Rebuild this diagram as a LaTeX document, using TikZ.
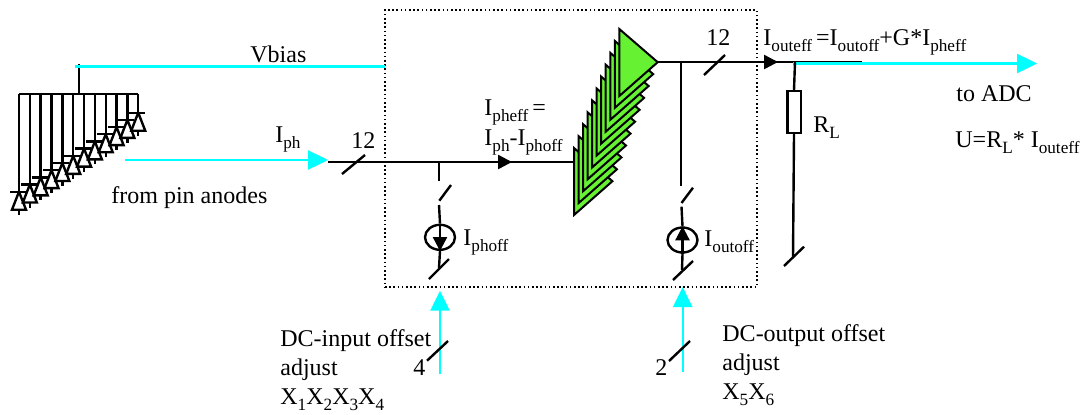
\documentclass[tikz,border=0pt]{standalone}
\usepackage{fontspec}
\setmainfont{Liberation Serif}
\usetikzlibrary{positioning,arrows.meta,shapes.geometric}
\definecolor{wirecyan}{RGB}{0,255,255}
\definecolor{ampgreen}{RGB}{102,242,51}
\newcommand{\lowtxt}[1]{\raisebox{-3pt}{\fontsize{8.6}{10}\selectfont #1}}

\begin{document}
\begin{tikzpicture}[
  x=0.5pt, y=-0.5pt,
  wire/.style={line width=1.2pt},
  bus/.style={line width=1.2pt, draw=wirecyan},
  busarrow/.style={bus, -{Triangle[length=10pt,width=9.5pt]}},
  midarrow/.style={wire, -{Triangle[length=7pt,width=7pt]}},
  lbl/.style={anchor=base west, inner sep=0pt, font=\fontsize{12}{14.5}\selectfont},
  para/.style={anchor=north west, inner sep=0pt, align=left, font=\fontsize{12}{14.5}\selectfont},
  isrc/.style={draw, ellipse, line width=1.2pt, minimum width=15pt, minimum height=12.5pt, inner sep=0pt},
  load/.style={draw, line width=1.2pt, minimum width=6.7pt, minimum height=20.8pt, inner sep=0pt},
  ampstage/.style={draw, line width=1pt, fill=ampgreen, line join=miter},
  ]
  \useasboundingbox (0,0) rectangle (1090,414);

  % offset box
  \node[draw, line width=0.9pt, dash pattern=on 0.8pt off 1.3pt, minimum width=186pt, minimum height=138.5pt, inner sep=0pt] (box) at (571,148.5) {};

  % pin diodes
  \coordinate (vbias) at (79,64);
  \coordinate (rail) at (79,94);
  \draw[wire] (vbias) -- (rail);
  \draw[wire] (19,94) -- (138,94);
  \foreach \i in {0,...,11} {
    \pgfmathsetmacro{\dx}{19+10.84*\i}
    \pgfmathsetmacro{\dy}{191.7-7.18*\i}
    \draw[wire] (\dx,94) -- (\dx,\dy);
    \draw[wire] (\dx-9,\dy) -- (\dx+7,\dy);
    \draw[wire] (\dx,\dy) -- (\dx+7,\dy+18) -- (\dx-7,\dy+18) -- cycle;
    \draw[wire] (\dx,\dy+18) -- (\dx,\dy+23);
  }
  \coordinate (vbiasin) at (75,66.5);
  \coordinate (vbiasout) at (385,66.5);
  \draw[bus] (vbiasin) -- (vbiasout);
  \node[lbl] (vbiastxt) at (250,62) {Vbias};

  % input side
  \coordinate (iphin) at (125,160);
  \coordinate (iphend) at (328,160);
  \coordinate (inst) at (328,162);
  \coordinate (injoin) at (439,162);
  \coordinate (inmid) at (512,162);
  \coordinate (ampin) at (575,162);
  \draw[busarrow] (iphin) -- (iphend);
  \draw[wire] (inst) -- (injoin) -- (ampin);
  \draw[midarrow] (injoin) -- (inmid);
  \draw[wire] (342,174) -- (365,155);
  \node[lbl] (iphtxt) at (275,142) {I\lowtxt{ph}};
  \node[lbl] (n12a) at (351,148) {12};
  \node[lbl] (frompin) at (111,203) {from pin anodes};
  \node[lbl] (phefftxt) at (484,115) {I\lowtxt{pheff}\,=};
  \node[lbl] (phefftxtb) at (484,145) {I\lowtxt{ph}-I\lowtxt{phoff}};

  % input offset source
  \node[isrc] (srcin) at (440,237.3) {};
  \coordinate (swina) at (439,180.7);
  \coordinate (swinb) at (439,205);
  \coordinate (swinc) at (439,268);
  \draw[wire] (injoin) -- (swina);
  \draw[wire] (439.3,200.7) -- (451,185);
  \draw[wire] (swinb) -- (srcin.north);
  \draw[wire] (srcin.south) -- (swinc);
  \draw[midarrow] (srcin.north) -- (srcin.south);
  \draw[wire] (429,279) -- (449,259);
  \node[lbl] (phofftxt) at (463,245) {I\lowtxt{phoff}};

  % amplifier stack
  \foreach \i in {0,...,10} {
    \pgfmathsetmacro{\ax}{574+4.53*\i}
    \pgfmathsetmacro{\ay}{148-11.9*\i}
    \draw[ampstage] (\ax,\ay) -- (\ax+38.4,\ay+33.2) -- (\ax,\ay+67) -- cycle;
  }
  \coordinate (ampout) at (658,62);

  % output side
  \coordinate (outjoin) at (681,62);
  \coordinate (outmid) at (778,62);
  \coordinate (rljoin) at (795,62);
  \coordinate (outend) at (862,62);
  \draw[wire] (ampout) -- (outend);
  \draw[midarrow] (outjoin) -- (outmid);
  \draw[wire] (704,75) -- (725,55);
  \node[lbl] (n12b) at (706,45) {12};
  \node[lbl] (outefftxt) at (763,45) {I\lowtxt{outeff}\,=I\lowtxt{outoff}+G*I\lowtxt{pheff}};
  \coordinate (adcin) at (793,63.5);
  \coordinate (adcout) at (1037,63.5);
  \draw[busarrow] (adcin) -- (adcout);
  \node[lbl] (adctxt) at (956,101) {to ADC};
  \node[lbl] (utxt) at (955,147) {U=R\lowtxt{L}* I\lowtxt{outeff}};

  % output offset source
  \node[isrc] (srcout) at (682.5,240) {};
  \coordinate (swouta) at (681,185.7);
  \coordinate (swoutb) at (681.5,206.7);
  \coordinate (swoutc) at (682,270);
  \draw[wire] (outjoin) -- (swouta);
  \draw[wire] (681.5,203) -- (693,187.7);
  \draw[wire] (swoutb) -- (srcout.north);
  \draw[wire] (srcout.south) -- (swoutc);
  \draw[midarrow] (srcout.south) -- (srcout.north);
  \draw[wire] (673,280) -- (693,261);
  \node[lbl] (outofftxt) at (704,246) {I\lowtxt{outoff}};

  % load resistor
  \node[load] (rl) at (794,112) {};
  \coordinate (rlgnd) at (793,256.7);
  \draw[wire] (rljoin) -- (rl.north);
  \draw[wire] (rl.south) -- (rlgnd);
  \draw[wire] (784,266) -- (804,246.7);
  \node[lbl] (rltxt) at (813,132) {R\lowtxt{L}};

  % DC adjust inputs
  \coordinate (adja) at (440,374);
  \coordinate (adjb) at (440,290.7);
  \coordinate (adjc) at (682.7,372);
  \coordinate (adjd) at (682.7,287);
  \draw[busarrow] (adja) -- (adjb);
  \draw[busarrow] (adjc) -- (adjd);
  \draw[wire] (427,360.7) -- (448,341);
  \draw[wire] (669,361) -- (690,341);
  \node[lbl] (n4) at (413,375) {4};
  \node[lbl] (n2) at (655,375) {2};
  \node[para] (dcin) at (280,329) {DC-input offset\\adjust\\X\lowtxt{1}X\lowtxt{2}X\lowtxt{3}X\lowtxt{4}};
  \node[para] (dcout) at (722,324) {DC-output offset\\adjust\\X\lowtxt{5}X\lowtxt{6}};
\end{tikzpicture}
\end{document}
